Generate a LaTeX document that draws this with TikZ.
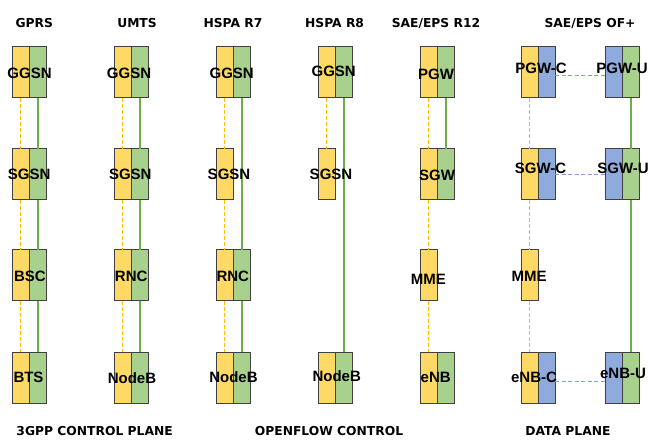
\documentclass[tikz,border=0pt]{standalone}
\usepackage{fontspec}
\setmainfont{Liberation Sans}
\newfontfamily\titlefont{DejaVu Sans}
\definecolor{yel}{HTML}{FFD966}
\definecolor{grn}{HTML}{A9D18E}
\definecolor{blu}{HTML}{8FAADC}
\definecolor{boxc}{HTML}{404040}
\definecolor{gline}{HTML}{70AD47}
\definecolor{yline}{HTML}{FFC000}
\definecolor{bline}{HTML}{7F9FDB}
\tikzset{
  half/.style={draw=boxc, line width=1pt, minimum width=17pt, minimum height=51pt,
    inner sep=0pt, outer sep=0pt, anchor=north west},
  lab/.style={anchor=base, inner sep=0pt, font=\bfseries\fontsize{15}{15}\selectfont},
  ttl/.style={anchor=base, inner sep=0pt, font=\titlefont\bfseries\fontsize{12.3}{12.3}\selectfont},
  gl/.style={draw=gline, line width=2pt},
  yl/.style={draw=yline, line width=1pt, dash pattern=on 4pt off 2pt},
  bl/.style={draw=bline, line width=1pt, dash pattern=on 4pt off 2.5pt},
}
\newcommand\pairbox[5]{%
  \node[half,fill=#4] (#1l) at (#2,#3) {};
  \node[half,fill=#5] (#1r) at (#1l.north east) {};
}
\begin{document}
\begin{tikzpicture}[x=1pt,y=-1pt]
\useasboundingbox[fill=white] (0,0) rectangle (648,446);
% GPRS
\pairbox{ga}{12}{47}{yel}{grn}
\pairbox{gb}{12}{149}{yel}{grn}
\pairbox{gc}{12}{250}{yel}{grn}
\pairbox{gd}{12}{352}{yel}{grn}
% UMTS
\pairbox{ua}{114}{47}{yel}{grn}
\pairbox{ub}{114}{149}{yel}{grn}
\pairbox{uc}{114}{250}{yel}{grn}
\pairbox{ud}{114}{352}{yel}{grn}
% HSPA R7
\pairbox{sa}{216}{47}{yel}{grn}
\node[half,fill=yel] (sb) at (216,149) {};
\pairbox{sc}{216}{250}{yel}{grn}
\pairbox{sd}{216}{352}{yel}{grn}
% HSPA R8
\pairbox{ea}{318}{47}{yel}{grn}
\node[half,fill=yel] (eb) at (318,149) {};
\pairbox{ed}{318}{352}{yel}{grn}
% SAE/EPS R12
\pairbox{ra}{420}{47}{yel}{grn}
\pairbox{rb}{420}{149}{yel}{grn}
\node[half,fill=yel] (rc) at (420,250) {};
\pairbox{rd}{420}{352}{yel}{grn}
% SAE/EPS OF+
\pairbox{ca}{521}{47}{yel}{blu}
\pairbox{cb}{521}{149}{yel}{blu}
\node[half,fill=yel] (cc) at (521,250) {};
\pairbox{cd}{521}{352}{yel}{blu}
\pairbox{pa}{605}{47}{blu}{grn}
\pairbox{pb}{605}{149}{blu}{grn}
\pairbox{pd}{605}{352}{blu}{grn}
% connectors GPRS
\draw[yl] (gal) -- (gbl); \draw[yl] (gbl) -- (gcl); \draw[yl] (gcl) -- (gdl);
\draw[gl] (gar.south) -- (gbr.north); \draw[gl] (gbr.south) -- (gcr.north); \draw[gl] (gcr.south) -- (gdr.north);
% UMTS
\draw[yl] (ual) -- (ubl); \draw[yl] (ubl) -- (ucl); \draw[yl] (ucl) -- (udl);
\draw[gl] (uar.south) -- (ubr.north); \draw[gl] (ubr.south) -- (ucr.north); \draw[gl] (ucr.south) -- (udr.north);
% HSPA R7
\draw[yl] (sal) -- (sb); \draw[yl] (sb) -- (scl); \draw[yl] (scl) -- (sdl);
\draw[gl] (sar.south) -- (scr.north); \draw[gl] (scr.south) -- (sdr.north);
% HSPA R8
\draw[yl] (eal) -- (eb);
\draw[gl] (ear.south) -- (edr.north);
% R12
\draw[yl] (ral) -- (rbl); \draw[yl] (rbl) -- (rc); \draw[yl] (rc) -- (rdl);
\draw[gl] (rar.south) -- (rbr.north);
% OF+
\draw[yl] (cal) -- (cbl); \draw[yl] (cbl) -- (cc); \draw[yl] (cc) -- (cdl);
\draw[gl] (par.south) -- (pbr.north); \draw[gl] (pbr.south) -- (pdr.north);
\draw[bl] ([yshift=-3.5pt]car.east) -- ([yshift=-3.5pt]pal.west);
\draw[bl] ([yshift=-0.5pt]cbr.east) -- ([yshift=-0.5pt]pbl.west);
\draw[bl] ([yshift=-4pt]cdr.east) -- ([yshift=-4pt]pdl.west);
% labels
\node[lab] (tga) at (29.5,78.7) {GGSN};
\node[lab] (tgb) at (29.2,179.6) {SGSN};
\node[lab] (tgc) at (30,281.7) {BSC};
\node[lab] (tgd) at (28.5,382.6) {BTS};
\node[lab] (tua) at (129,78.7) {GGSN};
\node[lab] (tub) at (130.3,179.6) {SGSN};
\node[lab] (tuc) at (131.2,281.4) {RNC};
\node[lab] (tud) at (132,383.1) {NodeB};
\node[lab] (tsa) at (231.7,78.7) {GGSN};
\node[lab] (tsb) at (229,179.4) {SGSN};
\node[lab] (tsc) at (232.8,281.1) {RNC};
\node[lab] (tsd) at (233.5,382.4) {NodeB};
\node[lab] (tea) at (333.7,76.2) {GGSN};
\node[lab] (teb) at (331,179.4) {SGSN};
\node[lab] (ted) at (336.7,381.6) {NodeB};
\node[lab] (tra) at (436,79.6) {PGW};
\node[lab] (trb) at (437,180.4) {SGW};
\node[lab] (trc) at (428.3,284.6) {MME};
\node[lab] (trd) at (435.7,382.9) {eNB};
\node[lab] (tca) at (541,73.9) {PGW-C};
\node[lab] (tcb) at (540.5,173.4) {SGW-C};
\node[lab] (tcc) at (529.2,281.9) {MME};
\node[lab] (tcd) at (534,382.1) {eNB-C};
\node[lab] (tpa) at (622,73.9) {PGW-U};
\node[lab] (tpb) at (623,173.4) {SGW-U};
\node[lab] (tpd) at (623,378.1) {eNB-U};
% titles
\node[ttl] (h1) at (34.3,27.3) {GPRS};
\node[ttl] (h2) at (137,27.3) {UMTS};
\node[ttl] (h3) at (233,27.3) {HSPA R7};
\node[ttl] (h4) at (334.6,27.3) {HSPA R8};
\node[ttl] (h5) at (436,27.3) {SAE/EPS R12};
\node[ttl] (h6) at (590,27.3) {SAE/EPS OF+};
\node[ttl] (f1) at (94.6,435.3) {3GPP CONTROL PLANE};
\node[ttl] (f2) at (329,435.3) {OPENFLOW CONTROL};
\node[ttl] (f3) at (568,435.3) {DATA PLANE};
\end{tikzpicture}
\end{document}
